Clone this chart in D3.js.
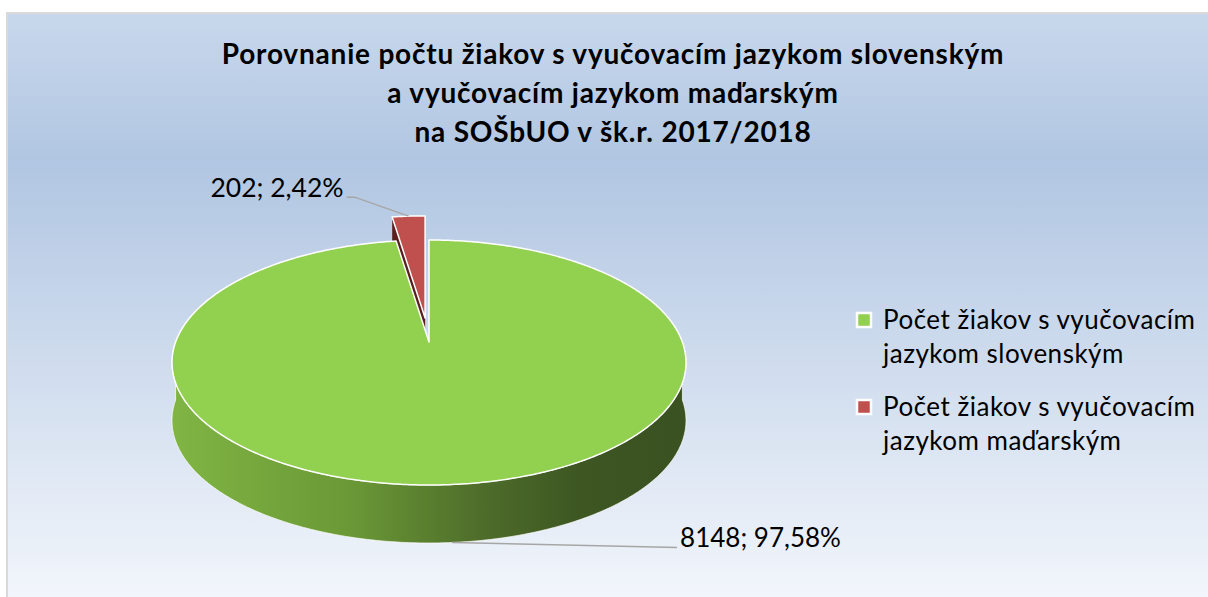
<!DOCTYPE html>
<html lang="sk">
<head>
<meta charset="UTF-8">
<title>Porovnanie počtu žiakov</title>
<style>
  body { margin: 0; background: #ffffff; }
  svg { display: block; }
  text { font-family: Lato, "Open Sans", sans-serif; fill: #000; }
</style>
</head>
<body>
<svg id="chart" width="1208" height="597"></svg>
<script src="https://d3js.org/d3.v7.min.js"></script>
<script>
// data
const categories = ["Počet žiakov s vyučovacím jazykom slovenským", "Počet žiakov s vyučovacím jazykom maďarským"];
const counts = [8148, 202];
const sliceColors = ["#92d050", "#c0504d"];
const explode = [0, 0.21];
const legendLines = [["Počet žiakov s vyučovacím", "jazykom slovenským"], ["Počet žiakov s vyučovacím", "jazykom maďarským"]];
const titleLines = ["Porovnanie počtu žiakov s vyučovacím jazykom slovenským", "a vyučovacím jazykom maďarským", "na SOŠbUO v šk.r. 2017/2018"];

const W = 1208, H = 597;
const svg = d3.select("#chart");
const defs = svg.append("defs");

// background gradient of the chart area
const bg = defs.append("linearGradient").attr("id", "bg").attr("x1", 0).attr("y1", 0).attr("x2", 0).attr("y2", 1);
bg.append("stop").attr("offset", "0").attr("stop-color", "#c8d8ec");
bg.append("stop").attr("offset", "0.25").attr("stop-color", "#b1c6e2");
bg.append("stop").attr("offset", "1").attr("stop-color", "#f4f7fc");

svg.append("rect").attr("x", 7).attr("y", 13).attr("width", W).attr("height", H)
  .attr("fill", "url(#bg)").attr("stroke", "#d9d9d9").attr("stroke-width", 2);

// title
svg.append("g").selectAll("text").data(titleLines).join("text")
  .attr("x", 613).attr("y", (d, i) => 64 + i * 39)
  .attr("text-anchor", "middle")
  .style("font-size", "28px").style("font-weight", "bold").style("letter-spacing", "0.8px")
  .text(d => d);

// 3d pie geometry (projected circle)
const CX = 429, CY = 362.5, RX = 257, RY = 122.5, A = -0.167, DEPTH = 58;
const proj = (u, v) => {
  const d = 1 + A * v;
  return [CX + RX * u * Math.sqrt(1 - A * A) / d, CY + RY * (v + A) / d];
};
const rim = (t, off) => {
  const p = proj(Math.sin(t), -Math.cos(t));
  return [p[0] + off[0], p[1] + off[1]];
};
const down = p => [p[0], p[1] + DEPTH];
const sample = (s, e) => {
  const n = Math.max(2, Math.ceil((e - s) / 0.01));
  return d3.range(n + 1).map(k => s + (e - s) * k / n);
};

const total = d3.sum(counts);
const arcs = d3.pie().sort(null).value(d => d)(counts);
const c0 = proj(0, 0);
arcs.forEach((a, i) => {
  const mid = (a.startAngle + a.endAngle) / 2;
  const c = proj(explode[i] * Math.sin(mid), -explode[i] * Math.cos(mid));
  a.off = [c[0] - c0[0], c[1] - c0[1]];
  a.center = c;
  a.mid = mid;
});

const line = d3.line();

const side = defs.append("linearGradient").attr("id", "side")
  .attr("gradientUnits", "userSpaceOnUse")
  .attr("x1", CX - RX).attr("x2", CX + RX).attr("y1", 0).attr("y2", 0);
[["0", "#80b544"], ["0.35", "#6a9836"], ["0.6", "#4e6d2a"], ["0.8", "#3d5622"], ["1", "#3a5121"]]
  .forEach(s => side.append("stop").attr("offset", s[0]).attr("stop-color", s[1]));

const pieG = svg.append("g");
const darker = ["#3a5121", "#5a1f1d"];

// radial faces of exploded slices
arcs.forEach((a, i) => {
  if (!explode[i]) return;
  [a.startAngle, a.endAngle].forEach(t => {
    const p = rim(t, a.off);
    const pts = [a.center, p, down(p), down(a.center)];
    pieG.append("path").attr("d", line(pts) + "Z").attr("fill", darker[i]);
  });
});

// outer side walls (front half only)
arcs.forEach((a, i) => {
  const s = Math.max(a.startAngle, Math.PI / 2), e = Math.min(a.endAngle, 3 * Math.PI / 2);
  if (e <= s) return;
  const top = sample(s, e).map(t => rim(t, a.off));
  const pts = top.concat(top.slice().reverse().map(down));
  pieG.append("path").attr("d", line(pts) + "Z")
    .attr("fill", i === 0 ? "url(#side)" : darker[i])
    .attr("stroke", "#ffffff").attr("stroke-width", 1).attr("stroke-opacity", 0.7);
});

// top faces
arcs.forEach((a, i) => {
  const pts = [a.center].concat(sample(a.startAngle, a.endAngle).map(t => rim(t, a.off)));
  pieG.append("path").attr("d", line(pts) + "Z")
    .attr("fill", sliceColors[i]).attr("stroke", "#ffffff").attr("stroke-width", 1.5)
    .attr("stroke-linejoin", "round");
});

// data labels with leader lines
const fmt = v => d3.format(".2f")(v).replace(".", ",");
const labelText = i => counts[i] + "; " + fmt(counts[i] / total * 100) + "%";

// green slice: anchor at bottom of side wall
const gA = down(rim(arcs[0].mid, arcs[0].off));
svg.append("path").attr("d", line([gA, [gA[0] + 225, gA[1] + 5]]))
  .attr("fill", "none").attr("stroke", "#a6a6a6").attr("stroke-width", 1.5);
svg.append("text").attr("x", gA[0] + 228).attr("y", gA[1] + 4)
  .style("font-size", "26px").text(labelText(0));

// red slice: anchor at top of exploded slice
const rA = rim(arcs[1].mid, arcs[1].off);
svg.append("path").attr("d", line([rA, [rA[0] - 54, rA[1] - 19], [rA[0] - 62, rA[1] - 19]]))
  .attr("fill", "none").attr("stroke", "#a6a6a6").attr("stroke-width", 1.5);
svg.append("text").attr("x", rA[0] - 65).attr("y", rA[1] - 19).attr("text-anchor", "end")
  .style("font-size", "26.5px").text(labelText(1));

// legend
const leg = svg.append("g").selectAll("g").data(legendLines).join("g")
  .attr("transform", (d, i) => "translate(857," + (313 + i * 87) + ")");
leg.append("rect").attr("width", 14).attr("height", 14)
  .attr("fill", (d, i) => sliceColors[i]).attr("stroke", "#ffffff").attr("stroke-width", 2.5);
leg.selectAll("text").data(d => d).join("text")
  .attr("x", 26).attr("y", (d, j) => 16 + j * 34)
  .style("font-size", "26px").style("letter-spacing", "0.5px").text(d => d);
</script>
</body>
</html>
